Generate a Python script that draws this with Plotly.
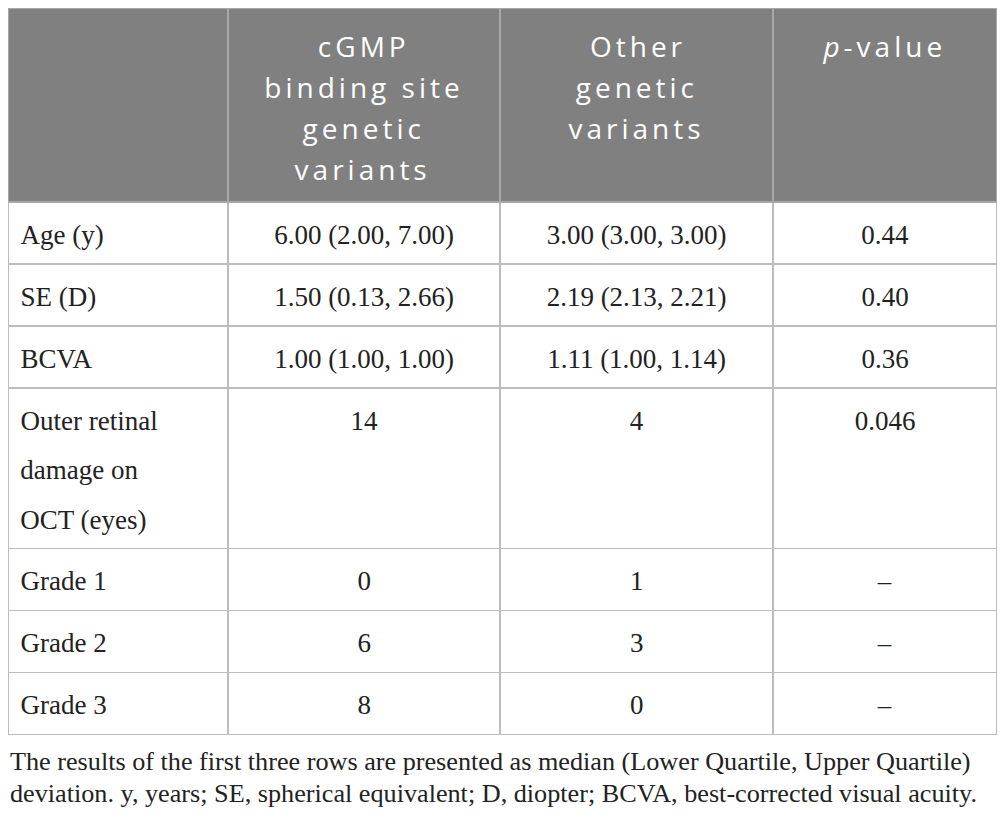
import plotly.graph_objects as go

# conteudo da tabela
cabecalho = [
    "",
    "cGMP<br>binding site<br>genetic<br>variants",
    "Other<br>genetic<br>variants",
    "<i>p</i>-value",
]
variaveis = [
    "Age (y)",
    "SE (D)",
    "BCVA",
    "Outer retinal<br>damage on<br>OCT (eyes)",
    "Grade 1",
    "Grade 2",
    "Grade 3",
]
cgmp = [
    "6.00 (2.00, 7.00)",
    "1.50 (0.13, 2.66)",
    "1.00 (1.00, 1.00)",
    "14",
    "0",
    "6",
    "8",
]
outras = [
    "3.00 (3.00, 3.00)",
    "2.19 (2.13, 2.21)",
    "1.11 (1.00, 1.14)",
    "4",
    "1",
    "3",
    "0",
]
p_valor = ["0.44", "0.40", "0.36", "0.046", "–", "–", "–"]

nota = [
    "The results of the first three rows are presented as median (Lower Quartile, Upper Quartile)",
    "deviation. y, years; SE, spherical equivalent; D, diopter; BCVA, best-corrected visual acuity.",
]

NB = "\u00a0"
# recuo (px) para centrar cada linha do cabecalho: a tabela centra o bloco, nao as linhas
recuo_cab = [
    [0],
    [53, 0, 38, 30],
    [21, 7, 0],
    [0],
]
EST_CAB = "font-size:28px;letter-spacing:4px"
EST_CORPO = "font-size:27px"


def espaco(px):
    return "<span style='font-size:1px;letter-spacing:%spx'>%s</span>" % (px, NB)


def sobe(px):
    # caractere invisivel acima do texto: a tabela alinha o topo do texto, assim ele desce
    return "<span style='font-size:1px;baseline-shift:%spx'>%s</span>" % (px, NB)


def cab(txt, recuos):
    if not txt:
        return ""
    linhas = txt.split("<br>")
    out = []
    for k, (ln, r) in enumerate(zip(linhas, recuos)):
        s = sobe(40) if k == 0 else ""
        if r:
            s += espaco(r)
        out.append(s + "<span style='" + EST_CAB + "'>" + ln + "</span>")
    s = "<br>".join(out)
    if len(linhas) == 1:
        s += "<br>"   # evita a quebra automatica de palavras da tabela
    return s


def corpo(txt, primeira):
    linhas = txt.split("<br>")
    out = []
    for k, ln in enumerate(linhas):
        s = sobe(33) if k == 0 else ""
        if primeira:
            s += espaco(4)
        out.append(s + "<span style='" + EST_CORPO + "'>" + ln + "</span>")
    if len(linhas) > 1:
        # espaco invisivel mais abaixo para dar altura a celula de 3 linhas
        out[-1] += "<span style='font-size:27px;baseline-shift:-5.5px'>" + NB + "</span>"
    s = "<br>".join(out)
    if len(linhas) == 1:
        s += "<br>"
    return s


cab_vals = [cab(t, r) for t, r in zip(cabecalho, recuo_cab)]
colunas = [variaveis, cgmp, outras, p_valor]
celulas = [[corpo(t, i == 0) for t in col] for i, col in enumerate(colunas)]

W, H = 989, 810

fig = go.Figure(go.Table(
    columnwidth=[220, 272, 273, 224],
    domain=dict(x=[0, 1], y=[0.05, 1]),
    header=dict(
        values=cab_vals,
        fill_color="#808080",
        line=dict(color="#a8a8a8", width=1.5),
        font=dict(family="Open Sans", size=31.5, color="white"),
        align="center",
        height=194,
    ),
    cells=dict(
        values=celulas,
        fill_color="white",
        line=dict(color="#bdbdbd", width=1.5),
        font=dict(family="Liberation Serif", size=38, color="#222222"),
        align=["left", "center", "center", "center"],
        height=62,
    ),
))

for i, linha in enumerate(nota):
    fig.add_annotation(
        text=linha, x=0, y=1 - (737 + 31.7 * i) / H, xref="paper", yref="paper",
        xanchor="left", yanchor="top", align="left", showarrow=False,
        font=dict(family="Liberation Serif", size=26.2, color="#222222"),
    )

fig.update_layout(
    width=W, height=H,
    margin=dict(l=0, r=0, t=0, b=0),
    paper_bgcolor="white",
)

fig.write_html("out.html")
